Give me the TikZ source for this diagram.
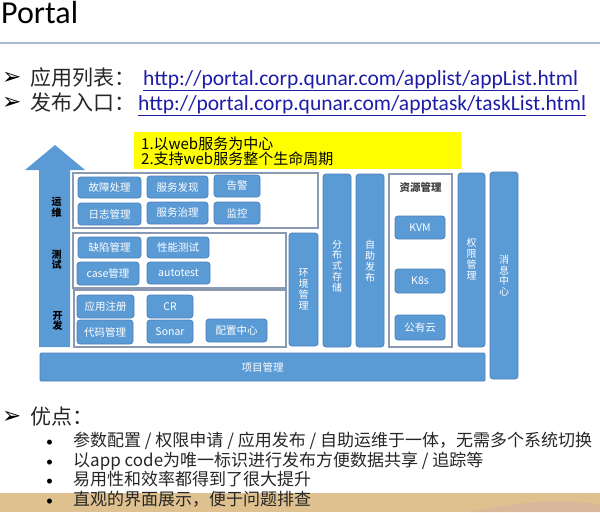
\documentclass[tikz,border=0pt]{standalone}
\usepackage{fontspec}
\setmainfont{Carlito}
\newfontfamily\cjk{Noto Sans CJK SC}
\newfontfamily\dingfont{DejaVu Sans}

\definecolor{boxblue}{HTML}{5B9BD5}
\definecolor{boxedge}{HTML}{4A7EB8}
\definecolor{panelline}{HTML}{8A9AB2}
\definecolor{rulecol}{HTML}{A9B7CD}
\definecolor{urlblue}{HTML}{1C1CA8}
\definecolor{bodytext}{HTML}{262626}
\definecolor{noteyellow}{HTML}{FFFF00}
\definecolor{bandtan}{HTML}{DFC18F}
\definecolor{swirl}{HTML}{D6B0A4}

\begin{document}
\begin{tikzpicture}[x=1pt,y=-1pt,
  blk/.style={draw=boxedge, line width=0.7pt, fill=boxblue, rounded corners=3pt,
    inner sep=0pt, outer sep=0pt, anchor=north west, text=white,
    font=\cjk\fontsize{10.5}{11}\selectfont, align=center},
  colbox/.style={blk, font=\cjk\fontsize{10}{10.8}\selectfont},
  coltext/.style={text=white, font=\cjk\fontsize{10}{10.8}\selectfont,
    align=center, inner sep=0pt},
  panel/.style={draw=panelline, line width=1.1pt, fill=white, inner sep=0pt,
    outer sep=0pt, anchor=north west},
  head/.style={anchor=base west, inner sep=0pt, text=bodytext,
    font=\cjk\fontsize{21}{24}\selectfont},
  url/.style={anchor=base west, inner sep=0pt, text=urlblue,
    font=\fontsize{21.5}{24}\selectfont},
  pointer/.style={anchor=base west, inner sep=0pt, text=black,
    font=\dingfont\bfseries\fontsize{23}{26}\selectfont},
  item/.style={anchor=base west, inner sep=0pt, text=bodytext,
    font=\cjk\fontsize{17}{20}\selectfont},
  dot/.style={anchor=base west, inner sep=0pt, text=black,
    font=\fontsize{14}{18}\selectfont},
  stage/.style={text=black, font=\cjk\bfseries\fontsize{10}{10.5}\selectfont,
    align=center, inner sep=0pt}
]
\useasboundingbox (0,0) rectangle (600,512);

% ---------- heading ----------
\node[anchor=base west, inner sep=0pt, text=black, font=\fontsize{32}{36}\selectfont]
  (title) at (1,23) {Portal};
\draw[rulecol, line width=1.6pt] (0,43) -- (600,43);

\node[pointer] (p1) at (2,84) {➢};
\node[head] (h1) at (30,85) {应用列表：};
\node[url] (u1) at (143,85) {\underline{http://portal.corp.qunar.com/applist/appList.html}};
\node[pointer] (p2) at (2,109) {➢};
\node[head] (h2) at (30,110) {发布入口：};
\node[url] (u2) at (138,110) {\underline{http://portal.corp.qunar.com/apptask/taskList.html}};

% ---------- goals note ----------
\node[fill=noteyellow, anchor=north west, minimum width=327, minimum height=37,
  inner sep=0pt] (goal) at (134,132) {};
\node[anchor=base west, inner sep=0pt, font=\cjk\fontsize{15}{15}\selectfont]
  (g1) at (141,149) {1.以web服务为中心};
\node[anchor=base west, inner sep=0pt, font=\cjk\fontsize{15}{15}\selectfont]
  (g2) at (141,164) {2.支持web服务整个生命周期};

% ---------- lifecycle arrow ----------
\fill[boxblue] (39,347) -- (39,170) -- (25,170) -- (55,145) -- (85,170)
  -- (70,170) -- (70,347) -- cycle;
\node[stage] (ops) at (56.5,207.5) {运\\维};
\node[stage] (tst) at (56.5,259.5) {测\\试};
\node[stage] (dev) at (57.5,321) {开\\发};

% ---------- stage panels ----------
\node[panel, minimum width=245, minimum height=55] (opsP) at (73,173) {};
\node[panel, minimum width=213, minimum height=55] (tstP) at (73,233) {};
\node[panel, minimum width=212, minimum height=57] (devP) at (74,290) {};

% operations
\node[blk, minimum width=63, minimum height=21] (gzcl) at (78,177) {故障处理};
\node[blk, minimum width=61, minimum height=22] (fwfx) at (147,176) {服务发现};
\node[blk, minimum width=46, minimum height=22] (gj)   at (214,175) {告警};
\node[blk, minimum width=63, minimum height=22] (rzgl) at (78,203) {日志管理};
\node[blk, minimum width=61, minimum height=22] (fwzl) at (147,202) {服务治理};
\node[blk, minimum width=46, minimum height=22] (jk)   at (214,202) {监控};

% testing
\node[blk, minimum width=63, minimum height=21] (qxgl) at (78,237) {缺陷管理};
\node[blk, minimum width=62, minimum height=21] (xncs) at (147,237) {性能测试};
\node[blk, minimum width=62, minimum height=23] (case) at (77,262) {case管理};
\node[blk, minimum width=63, minimum height=22] (auto) at (147,262) {autotest};

% development
\node[blk, minimum width=57, minimum height=23] (yyzc) at (77,295) {应用注册};
\node[blk, minimum width=56, minimum height=24] (dmgl) at (77,320) {代码管理};
\node[blk, minimum width=46, minimum height=23] (cr)   at (147,295) {CR};
\node[blk, minimum width=46, minimum height=23] (sonar) at (147,320) {Sonar};
\node[blk, minimum width=61, minimum height=23] (pzzx) at (206,319) {配置中心};

% ---------- vertical services ----------
\node[colbox, minimum width=29, minimum height=113] (hjgl) at (289,233) {环\\境\\管\\理};

\node[colbox, minimum width=28, minimum height=173] (fbcc) at (323,174) {};
\node[coltext] (fbccT) at (337,266) {分\\布\\式\\存\\储};

\node[colbox, minimum width=28, minimum height=173] (zzfb) at (356,174) {};
\node[coltext] (zzfbT) at (370,261) {自\\助\\发\\布};

\node[panel, minimum width=63, minimum height=173] (zygl) at (389,174) {};
\node[inner sep=0pt, text=black!75, font=\cjk\bfseries\fontsize{10.5}{11}\selectfont]
  (zyglT) at (420.5,187) {资源管理};
\node[blk, minimum width=50, minimum height=23] (kvm) at (395,216) {KVM};
\node[blk, minimum width=50, minimum height=24] (k8s) at (395,269) {K8s};
\node[blk, minimum width=50, minimum height=25] (gyy) at (395,315) {公有云};

\node[colbox, minimum width=27, minimum height=174] (qxglc) at (458,173) {};
\node[coltext] (qxglcT) at (471.5,259) {权\\限\\管\\理};

\node[colbox, minimum width=28, minimum height=207] (xxzx) at (490,172) {消\\息\\中\\心};

% ---------- project management base ----------
\node[blk, rounded corners=1pt, minimum width=445, minimum height=28] (xmgl) at (40,353) {项目管理};

% ---------- advantages ----------
\fill[bandtan] (0,493) rectangle (600,512);
\fill[swirl, opacity=0.55] (470,512) .. controls (520,500) and (575,499) .. (600,505)
  -- (600,512) -- cycle;

\node[pointer] (p3) at (2,423) {➢};
\node[head] (adv) at (30,424) {优点：};
\node[dot] (d1) at (46,446) {•};
\node[item] (a1) at (73,446.5) {参数配置 / 权限申请 / 应用发布 / 自助运维于一体，无需多个系统切换};
\node[dot] (d2) at (46,466) {•};
\node[item] (a2) at (73,466.5) {以app code为唯一标识进行发布方便数据共享 / 追踪等};
\node[dot] (d3) at (46,485) {•};
\node[item] (a3) at (73,485.5) {易用性和效率都得到了很大提升};
\node[dot] (d4) at (46,505) {•};
\node[item] (a4) at (73,505.5) {直观的界面展示，便于问题排查};
\end{tikzpicture}
\end{document}
